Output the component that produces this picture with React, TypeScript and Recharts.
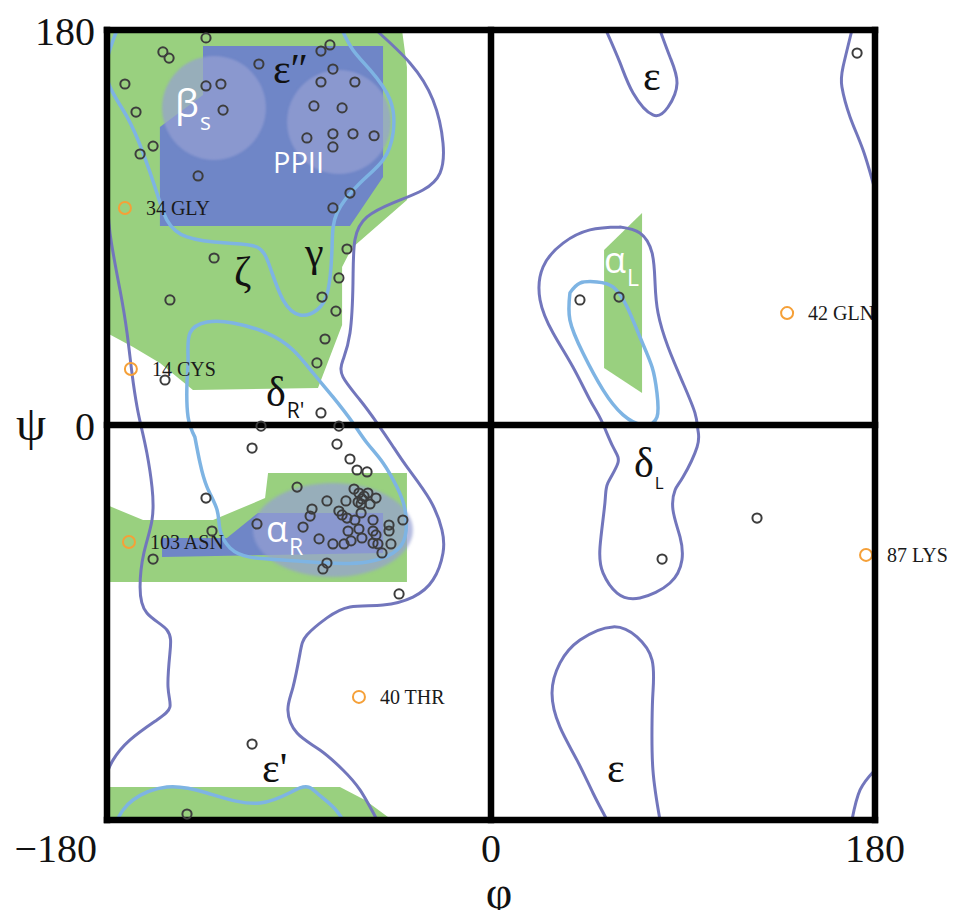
import React from 'react';
import { ScatterChart, Scatter, XAxis, YAxis, ReferenceLine } from 'recharts';

// all values are (phi, psi) in degrees

const phiTicks = [-180, 0, 180];
const psiTicks = [0, 180];

const residues = [
  [-133.6, 176.4], [-153.8, 170], [-150.9, 167.2], [-108.8, 164.5], [-79.7, 170.4], [-75.5, 173.2],
  [-74.1, 162.2], [-171.6, 155.4], [-133.6, 154.5], [-126.6, 155.4], [-79.7, 156.3], [-63.8, 156.3],
  [-166.4, 142.6], [-125.6, 143.5], [-83, 145.4], [-69.8, 144.5], [-86.3, 130.8], [-74.1, 132.7],
  [-64.7, 132.7], [-54.8, 131.8], [-74.1, 126.7], [-158.4, 127.1], [-164.5, 123.5], [-137.3, 113.5],
  [-66.1, 105.7], [-74.1, 98.9], [-129.8, 76.1], [-67.5, 80.2], [-71.3, 67], [-79.2, 58.3],
  [-150.5, 57], [-72.7, 51.9], [-77.8, 39.2], [-81.6, 28.3], [-152.8, 20.5], [-79.7, 5.5],
  [-107.8, -0.5], [-71.3, -0.5], [-112, -10.5], [-72.2, -8.7], [-66.1, -15.5], [-62.8, -20.5],
  [-58.1, -21.4], [-90.9, -28.3], [-133.6, -33.3], [-64.2, -29.2], [-61.9, -31], [-57.7, -31],
  [-60.5, -33.7], [-62.3, -35.1], [-53.9, -33.3], [-76.9, -34.6], [-68, -34.6], [-59.5, -32.4],
  [-56.7, -36], [-60.9, -36], [-83.9, -38.3], [-71.3, -39.2], [-84.8, -41.5], [-69.8, -41],
  [-67.5, -42.4], [-63.8, -43.3], [-60.9, -40.1], [-55.3, -43.3], [-41.3, -43.3], [-109.7, -45.1],
  [-88.1, -46.5], [-67, -48.3], [-61.9, -47.4], [-55.3, -48.3], [-47.8, -45.6], [-47.8, -48.3],
  [-53.9, -50.1], [-60.5, -51.5], [-65.6, -52.8], [-80.6, -51.9], [-74.1, -54.2], [-68.9, -54.2],
  [-55.3, -53.8], [-53, -54.2], [-46.9, -54.2], [-51.1, -58.3], [-76.9, -62.9], [-78.8, -65.6],
  [-130.8, -48.3], [-158.4, -61.1], [-43.1, -77], [-112, -145.4], [-142.5, -177.3], [171.6, 169.5],
  [41.7, 57], [60, 58.3], [124.7, -42.4], [80.2, -61.1],
];

const outliers = [
  { name: '34 GLY', x: -171.6, y: 98.9 },
  { name: '14 CYS', x: -168.8, y: 25.5 },
  { name: '103 ASN', x: -169.7, y: -53.3 },
  { name: '40 THR', x: -61.9, y: -123.9 },
  { name: '42 GLN', x: 138.8, y: 51 },
  { name: '87 LYS', x: 175.8, y: -59.2 },
];

// regions
const greenBeta = [[-180, 180], [-41.7, 180], [-39.4, 163], [-39.4, 102.5], [-65.2, 80.7], [-69.8, 72], [-69.8, 45.6], [-81.1, 16.9], [-139.7, 15.9], [-155.2, 28.3], [-167.8, 35.5], [-180, 41.9]];
const blueBeta = [[-135, 172.7], [-50.6, 172.7], [-50.6, 113], [-66.1, 90.7], [-155.2, 90.7], [-155.2, 135.8], [-135, 150.4]];
const greenAlphaR = [[-104.5, -21.9], [-39.4, -21.9], [-39.4, -71.5], [-180, -71.5], [-180, -36.5], [-163.1, -43.3], [-130.3, -43.3], [-105.9, -33.3]];
const blueAlphaR = [[-154.2, -51.5], [-123.8, -51.5], [-111.6, -41.9], [-109.2, -40.1], [-50.6, -40.1], [-50.6, -58.3], [-154.2, -60.2]];
const greenBottom = [[-180, -165], [-70.8, -165], [-59.1, -170.9], [-46.4, -180], [-180, -180]];
const greenAlphaL = [[53, 79.7], [70.8, 96.6], [70.8, 14.6], [53, 26]];

// halo boxes: two opposite corners
const haloBetaS = [[-154.2, 168.2], [-105.5, 120.8]];
const haloPPII = [[-95.6, 161.8], [-46.9, 114.4]];
const haloAlphaR = [[-111.6, -26.4], [-36.6, -69.3]];

// outer contours
const outerMain = [[-53.9, 180], [-38, 165], [-27.2, 148.1], [-22.5, 128.5], [-23.9, 114.8], [-31.9, 107.1], [-45.9, 101.2], [-58.1, 94.8], [-63.8, 84.3], [-64.7, 64.7], [-66.1, 41.9], [-69.4, 29.6], [-69.4, 21.9], [-61.4, 11.4], [-53.4, 0.9], [-46.4, -9.1], [-39.4, -19.1], [-28.6, -34.2], [-23, -47.8], [-22.5, -58.3], [-27.2, -70.6], [-36.6, -78.4], [-50.6, -82], [-66.1, -82.9], [-76.9, -87.9], [-86.3, -95.7], [-89.5, -103.9], [-92.8, -119.4], [-95.2, -129.9], [-90.9, -140.4], [-80.2, -148.1], [-69.4, -157.2], [-61.4, -166.3], [-53.4, -180]];
const outerLeft = [[-180, 109.4], [-178.6, 87.5], [-173.9, 61.5], [-170.6, 41.9], [-168.3, 23.7], [-165.9, 8.2], [-163.6, -2.3], [-161.3, -12.8], [-158.9, -28.3], [-158.9, -43.3], [-162.7, -58.3], [-164.5, -73.8], [-161.3, -85.7], [-151.9, -93.4], [-150.5, -103.9], [-151.4, -119.4], [-150.5, -128.5], [-156.6, -134.4], [-169.2, -143.5], [-177.2, -152.7], [-180, -158.6]];
const outerRightTop = [[169.2, 180], [165, 163.1], [164.5, 154], [168.3, 140.4], [174.4, 125.3], [180, 107.1]];
const outerRightBottom = [[169.2, -180], [173, -166.3], [180, -157.2]];
const outerAlphaL = [[60.5, 90.2], [69.8, 87.5], [75.5, 78.4], [76.9, 64.7], [78.3, 51], [83, 35.5], [90, 19.1], [95.6, 5.5], [97, -2.3], [96.6, -10], [90, -23.7], [86.3, -29.6], [85.3, -38.7], [88.6, -51], [89.5, -61.5], [83.9, -72], [69.8, -78.8], [59.1, -76.6], [52.5, -67.4], [51.1, -55.6], [53.4, -35.5], [54.8, -26.4], [59.5, -17.3], [57.2, -10], [51.6, 2.3], [46.4, 11.4], [38.4, 26.4], [29.1, 41.9], [23, 57], [24.4, 72], [33.8, 82.9], [46.4, 88.9], [60.5, 90.2]];
const outerEpsTop = [[53.9, 180], [60.5, 165], [66.6, 151.3], [75.9, 141.3], [83, 144.9], [87.2, 155.8], [83.9, 167.7], [79.2, 180]];
const outerEpsBottom = [[54.4, -180], [47.8, -167.7], [40.3, -152.7], [32.3, -137.6], [28.6, -122.1], [32.3, -108.5], [41.7, -98], [57.2, -92], [68.4, -96.6], [75.5, -107.1], [75.9, -122.1], [75.5, -134.4], [75.9, -157.2], [79.2, -180]];

// inner contours
const innerBeta = [[-175.3, 180], [-180, 166.3], [-178.6, 154], [-170.6, 140.4], [-163.1, 124], [-156.6, 105.7], [-151.9, 93.4], [-142.5, 85.7], [-123.8, 82.9], [-109.7, 81.1], [-103.6, 72], [-97.5, 57], [-89.5, 50.1], [-81.6, 52.4], [-76.4, 61.5], [-74.5, 81.1], [-72.2, 96.6], [-61.4, 110.3], [-50.6, 120.8], [-45.9, 133.1], [-47.3, 148.1], [-56.7, 161.8], [-64.7, 170.9], [-69.8, 180]];
const innerAlphaR = [[-138.8, -5.5], [-142, 3.6], [-142.5, 19.1], [-142, 30.5], [-141.1, 41.9], [-133.1, 46.9], [-120.9, 46.5], [-105, 41.9], [-92.8, 34.2], [-83.4, 23.7], [-74.1, 12.8], [-64.7, 0.9], [-58.1, -8.2], [-50.6, -17.3], [-44.1, -28.3], [-40.3, -38.7], [-40.3, -51], [-45.9, -58.3], [-58.1, -62.4], [-76.9, -62.9], [-97.5, -61.5], [-113, -60.2], [-122.3, -56], [-127, -47.8], [-128.4, -38.7], [-133.1, -28.3], [-136.4, -17.3], [-138.8, -5.5]];
const innerAlphaL = [[37, 60.2], [41.7, 64.7], [49.7, 65.2], [57.2, 62.9], [63.8, 53.8], [69.8, 40.1], [75.5, 26.4], [77.8, 14.6], [77.8, 3.6], [71.3, 0], [61.9, 4.6], [52.5, 16], [43.1, 32.8], [37, 47.8], [37, 60.2]];
const innerBottom = [[-175.3, -180], [-167.8, -170.9], [-151.9, -165], [-133.1, -167.7], [-108.3, -172.3], [-89.5, -165.4], [-81.6, -167.7], [-74.1, -174], [-69.4, -180]];

const blackLabels = [
  { t: 'ε″', x: -102.2, y: 155.8 },
  { t: 'ζ', x: -120.5, y: 63.3 },
  { t: 'γ', x: -87.2, y: 72.5 },
  { t: 'δ', sub: "R'", x: -105.5, y: 8.7 },
  { t: "ε'", x: -107.3, y: -162.7 },
  { t: 'ε', x: 71.3, y: 152.7 },
  { t: 'δ', sub: 'L', x: 67, y: -23.7 },
  { t: 'ε', x: 54.4, y: -162.7 },
];

const whiteLabels = [
  { t: 'β', sub: 's', x: -148.1, y: 140.4 },
  { t: 'PPII', x: -102.2, y: 114.8 },
  { t: 'α', sub: 'R', x: -105.5, y: -53.3 },
  { t: 'α', sub: 'L', x: 53, y: 69.3 },
];

const SERIF = "'Liberation Serif', 'DejaVu Serif', serif";
const SANS = "'Open Sans', 'DejaVu Sans', sans-serif";
const GREEN = '#99d07f';
const BLUE = '#6f86c7';
const HALO = '#959fd3';
const OUTER = '#7276bc';
const INNER = '#7eb4e3';

const pts = (a: number[][]) => a.map(([x, y]) => ({ x, y }));

const Empty = () => <g />;

const Ring = ({ cx, cy }: any) => (
  <circle cx={cx} cy={cy} r={4.6} fill="none" stroke="#3d3d3d" strokeWidth={2} />
);

const Flag = ({ cx, cy, payload }: any) => (
  <g>
    <circle cx={cx} cy={cy} r={6} fill="none" stroke="#f5a038" strokeWidth={2} />
    <text x={cx + 21} y={cy + 7} fontFamily={SERIF} fontSize={20} fill="#1a1a1a">
      {payload.name}
    </text>
  </g>
);

const BlackLabel = ({ cx, cy, payload }: any) => (
  <text x={cx} y={cy} fontFamily={SERIF} fontSize={42} fill="#111">
    {payload.t}
    {payload.sub && (
      <tspan fontFamily={SANS} fontSize={payload.sub === 'L' ? 17 : 21} dx={1} dy={12}>
        {payload.sub}
      </tspan>
    )}
  </text>
);

const WhiteLabel = ({ cx, cy, payload }: any) => (
  <text x={cx} y={cy} fontFamily={SANS} fontSize={payload.t === 'PPII' ? 29 : payload.t === 'β' ? 38 : 36} fill="#fff">
    {payload.t}
    {payload.sub && (
      <tspan fontSize={23} dx={1} dy={13}>
        {payload.sub}
      </tspan>
    )}
  </text>
);

// draws an ellipse inside the box given by the two scaled corner points
const halo = (blur: number) => (p: any) => {
  const [a, b] = p.points;
  return (
    <ellipse
      cx={(a.x + b.x) / 2}
      cy={(a.y + b.y) / 2}
      rx={Math.abs(b.x - a.x) / 2}
      ry={Math.abs(b.y - a.y) / 2}
      fill={HALO}
      fillOpacity={0.7}
      style={{ filter: `blur(${blur}px)` }}
    />
  );
};

const XTick = ({ x, y, payload }: any) => {
  const v = payload.value;
  return (
    <g>
      <text x={v === -180 ? x - 10 : x} y={y + 42} textAnchor={v === -180 ? 'end' : 'middle'} fontFamily={SERIF} fontSize={40} fill="#111">
        {v === -180 ? '−180' : v}
      </text>
      {v === 0 && (
        <text x={x + 8} y={y + 88} textAnchor="middle" fontFamily={SERIF} fontSize={46} fill="#111">
          φ
        </text>
      )}
    </g>
  );
};

const YTick = ({ x, y, payload }: any) => (
  <g>
    <text x={x} y={y + 15} textAnchor="end" fontFamily={SERIF} fontSize={40} fill="#111">
      {payload.value}
    </text>
    {payload.value === 0 && (
      <text x={x - 64} y={y + 15} textAnchor="middle" fontFamily={SERIF} fontSize={48} fill="#111">
        ψ
      </text>
    )}
  </g>
);

const area = (d: number[][], color: string) => (
  <Scatter data={pts(d)} shape={Empty} line={{ fill: color, stroke: 'none' }} lineJointType="linearClosed" isAnimationActive={false} zIndex={600} />
);

const contour = (d: number[][], color: string, w: number) => (
  <Scatter data={pts(d)} shape={Empty} line={{ stroke: color, strokeWidth: w, fill: 'none', strokeLinecap: 'round' }} lineJointType="natural" isAnimationActive={false} zIndex={600} />
);

const haloSeries = (d: number[][], blur: number) => (
  <Scatter data={pts(d)} shape={Empty} line={halo(blur)} isAnimationActive={false} zIndex={600} />
);

const frame = { stroke: '#000', strokeWidth: 6.5, strokeLinecap: 'square' as const, zIndex: 650 };

export default function App() {
  return (
    <div>
      <style>{'.recharts-surface{overflow:visible}'}</style>
      <ScatterChart width={939} height={902} margin={{ top: 22, right: 72, bottom: 30, left: 9 }}>
        <XAxis type="number" dataKey="x" domain={[-180, 180]} ticks={phiTicks} interval={0} axisLine={false} tickLine={false} tickSize={0} tickMargin={0} height={60} tick={XTick} />
        <YAxis type="number" dataKey="y" domain={[-180, 180]} ticks={psiTicks} interval={0} axisLine={false} tickLine={false} tickSize={0} tickMargin={12} width={90} tick={YTick} />

        {area(greenBeta, GREEN)}
        {area(blueBeta, BLUE)}
        {area(greenAlphaR, GREEN)}
        {area(blueAlphaR, BLUE)}
        {area(greenBottom, GREEN)}
        {area(greenAlphaL, GREEN)}

        {haloSeries(haloBetaS, 1)}
        {haloSeries(haloPPII, 1)}
        {haloSeries(haloAlphaR, 1.6)}

        {contour(outerMain, OUTER, 3)}
        {contour(outerLeft, OUTER, 3)}
        {contour(outerRightTop, OUTER, 3)}
        {contour(outerRightBottom, OUTER, 3)}
        {contour(outerAlphaL, OUTER, 3)}
        {contour(outerEpsTop, OUTER, 3)}
        {contour(outerEpsBottom, OUTER, 3)}
        {contour(innerBeta, INNER, 3.5)}
        {contour(innerAlphaR, INNER, 3.5)}
        {contour(innerAlphaL, INNER, 3.5)}
        {contour(innerBottom, INNER, 3.5)}

        <Scatter data={outliers} shape={Flag} isAnimationActive={false} zIndex={600} />

        <ReferenceLine x={-180} {...frame} />
        <ReferenceLine x={180} {...frame} />
        <ReferenceLine x={0} {...frame} />
        <ReferenceLine y={-180} {...frame} />
        <ReferenceLine y={180} {...frame} />
        <ReferenceLine y={0} {...frame} />

        <Scatter data={pts(residues)} shape={Ring} isAnimationActive={false} zIndex={700} />
        <Scatter data={blackLabels} shape={BlackLabel} isAnimationActive={false} zIndex={700} />
        <Scatter data={whiteLabels} shape={WhiteLabel} isAnimationActive={false} zIndex={700} />
      </ScatterChart>
    </div>
  );
}
